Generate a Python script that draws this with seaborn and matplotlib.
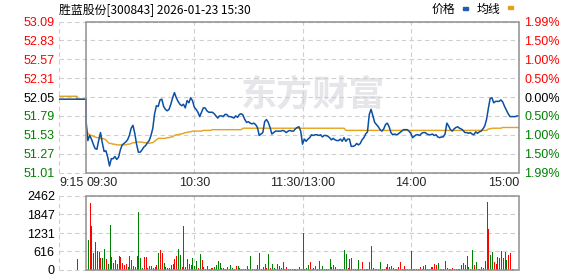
import matplotlib
matplotlib.use("Agg")
import matplotlib.pyplot as plt
from matplotlib.patches import Rectangle
import pandas as pd
import seaborn as sns

# ---------------- data ----------------
title = "胜蓝股份[300843] 2026-01-23 15:30"
legend_labels = ["价格", "均线"]
watermark = "东方财富"
prev_close = 52.05
price_ticks = [51.01, 51.27, 51.53, 51.79, 52.05, 52.31, 52.57, 52.83, 53.09]
pct_labels = ["1.99%", "1.50%", "1.00%", "0.50%", "0.00%", "0.50%", "1.00%", "1.50%", "1.99%"]
vol_ticks = [0, 616, 1231, 1847, 2462]
time_ticks = [-15, 0, 60, 120, 180, 240]
time_labels = ["9:15", "09:30", "10:30", "11:30/13:00", "14:00", "15:00"]

# pre-market (call auction 9:15-9:30), minutes relative to 9:30
pre_minutes = [-15, -5, -5, 0]
pre_price = [52.02, 52.02, 52.02, 52.02]
pre_avg = [52.06, 52.06, 52.02, 52.02]
pre_vol_minutes = [-5]
pre_vol = [366]
pre_dir = "d"

# trading minutes 0..240 (9:30-11:30, 13:00-15:00)
price = [
    51.72, 51.45, 51.52, 51.47, 51.40, 51.34, 51.33, 51.45, 51.56, 51.42,
    51.30, 51.31, 51.22, 51.10, 51.20, 51.20, 51.23, 51.19, 51.22, 51.32,
    51.39, 51.41, 51.43, 51.46, 51.52, 51.62, 51.66, 51.55, 51.40, 51.29,
    51.29, 51.32, 51.36, 51.38, 51.42, 51.45, 51.52, 51.62, 51.82, 51.93,
    51.92, 52.01, 52.02, 51.92, 51.88, 51.86, 51.88, 51.95, 52.04, 52.11,
    52.04, 51.99, 51.95, 51.93, 51.95, 51.90, 52.00, 51.97, 52.04, 52.00,
    51.91, 51.88, 51.84, 51.78, 51.84, 51.90, 51.90, 51.86, 51.84, 51.84,
    51.84, 51.82, 51.79, 51.76, 51.79, 51.79, 51.78, 51.81, 51.81, 51.78,
    51.78, 51.77, 51.76, 51.79, 51.77, 51.81, 51.82, 51.80, 51.74, 51.70,
    51.71, 51.69, 51.68, 51.69, 51.67, 51.63, 51.52, 51.54, 51.56, 51.71,
    51.74, 51.70, 51.63, 51.54, 51.56, 51.58, 51.58, 51.58, 51.58, 51.59,
    51.58, 51.56, 51.58, 51.59, 51.58, 51.58, 51.61, 51.63, 51.64, 51.58,
    51.40, 51.47, 51.44, 51.47, 51.49, 51.53, 51.52, 51.53, 51.53, 51.52,
    51.53, 51.50, 51.52, 51.52, 51.51, 51.49, 51.46, 51.48, 51.46, 51.45,
    51.45, 51.47, 51.44, 51.49, 51.44, 51.47, 51.47, 51.37, 51.37, 51.38,
    51.41, 51.39, 51.41, 51.46, 51.49, 51.54, 51.57, 51.81, 51.88, 51.79,
    51.70, 51.67, 51.64, 51.60, 51.58, 51.61, 51.67, 51.69, 51.64, 51.56,
    51.53, 51.54, 51.53, 51.54, 51.56, 51.58, 51.60, 51.60, 51.60, 51.58,
    51.55, 51.49, 51.51, 51.53, 51.53, 51.52, 51.55, 51.56, 51.56, 51.54,
    51.53, 51.53, 51.54, 51.52, 51.53, 51.50, 51.49, 51.50, 51.50, 51.54,
    51.69, 51.65, 51.60, 51.58, 51.61, 51.63, 51.64, 51.62, 51.61, 51.59,
    51.56, 51.56, 51.55, 51.56, 51.54, 51.53, 51.57, 51.55, 51.57, 51.58,
    51.61, 51.65, 51.74, 51.89, 52.03, 52.04, 51.97, 51.99, 51.99, 51.99,
    52.01, 51.98, 51.92, 51.87, 51.82, 51.78, 51.78, 51.78, 51.78, 51.79,
    51.79,
]

avg = [
    51.63, 51.55, 51.53, 51.52, 51.51, 51.50, 51.49, 51.49, 51.48, 51.48,
    51.47, 51.46, 51.43, 51.41, 51.41, 51.40, 51.40, 51.39, 51.39, 51.39,
    51.39, 51.39, 51.39, 51.40, 51.40, 51.41, 51.42, 51.42, 51.43, 51.43,
    51.43, 51.43, 51.42, 51.42, 51.42, 51.41, 51.42, 51.42, 51.44, 51.46,
    51.48, 51.48, 51.48, 51.48, 51.48, 51.49, 51.49, 51.50, 51.50, 51.52,
    51.53, 51.53, 51.54, 51.54, 51.55, 51.56, 51.56, 51.57, 51.57, 51.58,
    51.58, 51.58, 51.58, 51.58, 51.58, 51.59, 51.59, 51.59, 51.59, 51.59,
    51.60, 51.60, 51.60, 51.60, 51.60, 51.60, 51.60, 51.60, 51.60, 51.60,
    51.60, 51.60, 51.60, 51.60, 51.60, 51.60, 51.60, 51.62, 51.62, 51.62,
    51.62, 51.62, 51.62, 51.62, 51.62, 51.62, 51.62, 51.62, 51.62, 51.62,
    51.62, 51.62, 51.62, 51.62, 51.62, 51.62, 51.62, 51.62, 51.62, 51.62,
    51.62, 51.62, 51.62, 51.62, 51.62, 51.62, 51.62, 51.62, 51.62, 51.62,
    51.62, 51.62, 51.62, 51.62, 51.62, 51.62, 51.62, 51.62, 51.62, 51.62,
    51.62, 51.62, 51.62, 51.62, 51.62, 51.62, 51.62, 51.62, 51.62, 51.62,
    51.62, 51.62, 51.62, 51.62, 51.59, 51.59, 51.59, 51.59, 51.59, 51.59,
    51.59, 51.59, 51.59, 51.59, 51.59, 51.59, 51.59, 51.59, 51.59, 51.59,
    51.59, 51.59, 51.59, 51.59, 51.59, 51.59, 51.59, 51.59, 51.59, 51.59,
    51.59, 51.59, 51.59, 51.59, 51.59, 51.59, 51.59, 51.59, 51.59, 51.59,
    51.59, 51.59, 51.59, 51.59, 51.59, 51.59, 51.59, 51.59, 51.59, 51.59,
    51.59, 51.59, 51.59, 51.59, 51.59, 51.59, 51.59, 51.59, 51.59, 51.59,
    51.59, 51.59, 51.59, 51.59, 51.59, 51.59, 51.59, 51.59, 51.59, 51.59,
    51.59, 51.59, 51.59, 51.59, 51.59, 51.59, 51.59, 51.59, 51.59, 51.59,
    51.59, 51.59, 51.59, 51.61, 51.61, 51.62, 51.62, 51.62, 51.62, 51.62,
    51.62, 51.63, 51.63, 51.63, 51.63, 51.63, 51.63, 51.63, 51.63, 51.63,
    51.63,
]

volume = [
    0,
    998, 2240, 1464, 555, 943, 643, 610, 400, 400, 700,
    366, 200, 1508, 444, 244, 333, 211, 466, 433, 244,
    155, 200, 100, 466, 333, 133, 111, 466, 1930, 388,
    78, 433, 433, 78, 133, 122, 67, 100, 155, 566,
    666, 577, 233, 100, 67, 78, 166, 200, 355, 466,
    688, 500, 100, 1464, 100, 366, 200, 166, 400, 133,
    300, 78, 533, 333, 100, 33, 122, 44, 78, 55,
    111, 155, 300, 222, 55, 67, 44, 111, 44, 155,
    55, 44, 133, 122, 78, 33, 44, 44, 133, 44,
    466, 44, 33, 44, 166, 566, 44, 89, 211, 78,
    533, 78, 189, 67, 44, 200, 122, 78, 266, 44,
    89, 44, 22, 22, 33, 22, 22, 89, 22, 1242,
    44, 78, 166, 277, 44, 67, 133, 44, 310, 33,
    133, 33, 33, 33, 366, 100, 155, 89, 33, 33,
    33, 33, 666, 533, 78, 366, 400, 33, 33, 33,
    333, 33, 266, 33, 33, 33, 266, 799, 67, 33,
    33, 33, 266, 33, 33, 89, 200, 100, 144, 67,
    33, 33, 100, 266, 33, 133, 33, 33, 33, 632,
    33, 33, 33, 33, 100, 33, 133, 166, 33, 33,
    100, 100, 200, 166, 233, 33, 33, 33, 300, 67,
    33, 33, 67, 33, 33, 33, 33, 166, 233, 166,
    466, 100, 33, 666, 166, 266, 33, 33, 100, 67,
    300, 2262, 1364, 500, 600, 266, 200, 433, 400, 632,
    400, 600, 333, 500, 566, 33, 0, 0, 0, 710,
]

# u = up (red), d = down (green), - = no bar; one char per minute 0..240
direction = (
    "-"
    "dudddduudd" "udduuudduu" "uuduuuuddd" "duuuduudud"
    "uuduududuu" "ddududuudd" "duduuududu" "ddddudddud"
    "duuduududd" "dududduuuu" "dudduududu" "uuuuduudud"
    "ddduududdu" "duuuddduuu" "uuddudduuu" "duuuuuuudu"
    "ddduuudddd" "uduuuuuddd" "uuuuuuuduu" "uuuuddduud"
    "dduduuuddu" "udududuuuu" "uuudduuuud" "ddduuu---u"
)

# ---------------- style ----------------
sns.set_style("white")
plt.rcParams["font.family"] = ["Liberation Sans", "Noto Sans CJK SC", "DejaVu Sans"]

RED, GREEN, BLACK = "#ff0000", "#008000", "#000000"
BLUE_LINE, ORANGE_LINE = "#0b4fa3", "#e3a21a"
GRID_C, BOX_C = "#cfcfcf", "#8f8f8f"
DASH = (0, (4, 3))

W, H = 578, 276
fig = plt.figure(figsize=(W / 100, H / 100), dpi=100)
L, R = 59, 519
top_m, bot_m = 21.5, 172.5
top_v, bot_v = 196, 270
ax = fig.add_axes([L / W, 1 - bot_m / H, (R - L) / W, (bot_m - top_m) / H])
axv = fig.add_axes([L / W, 1 - bot_v / H, (R - L) / W, (bot_v - top_v) / H])

for a in (ax, axv):
    for s in a.spines.values():
        s.set_visible(False)
    a.set_facecolor("none")
    a.set_xlim(time_ticks[0], time_ticks[-1])

# ---------------- main price panel ----------------
ymin, ymax = price_ticks[0], price_ticks[-1]
ax.set_ylim(ymin, ymax)
for y in price_ticks:
    ax.axhline(y, color=GRID_C, lw=0.8, ls=DASH, zorder=0.5, clip_on=False)
for x in [time_ticks[0]] + time_ticks[2:-1]:
    ax.axvline(x, color=GRID_C, lw=0.8, ls=DASH, zorder=0.5, clip_on=False)
ax.add_patch(Rectangle((time_ticks[1], ymin), time_ticks[-1] - time_ticks[1], ymax - ymin,
                       fill=False, ec=BOX_C, lw=1.1, clip_on=False, zorder=4))

ax.text(0.552, 0.515, watermark, transform=ax.transAxes, ha="center", va="center",
        fontsize=26, fontweight="bold", color="#e6e6ea", family=["Noto Sans CJK SC"], zorder=0.2)

minutes = list(range(len(price)))
df = pd.DataFrame({
    "minute": pre_minutes + minutes,
    "price": pre_price + price,
    "avg": pre_avg + avg,
})
sns.lineplot(data=df, x="minute", y="avg", ax=ax, color=ORANGE_LINE, lw=1.0,
             estimator=None, sort=False, zorder=2)
sns.lineplot(data=df, x="minute", y="price", ax=ax, color=BLUE_LINE, lw=1.1,
             estimator=None, sort=False, zorder=3)
ax.set_xlabel("")
ax.set_ylabel("")


def level_color(v):
    if abs(v - prev_close) < 1e-9:
        return BLACK
    return RED if v > prev_close else GREEN


ax.set_yticks(price_ticks)
ax.set_yticklabels([f"{v:.2f}" for v in price_ticks], fontsize=9)
for lab, v in zip(ax.get_yticklabels(), price_ticks):
    lab.set_color(level_color(v))
ax.tick_params(axis="y", length=0, pad=3)

ax.set_xticks(time_ticks)
ax.set_xticklabels(time_labels, fontsize=9)
for lab, ha in zip(ax.get_xticklabels(), ["left", "left", "center", "center", "center", "right"]):
    lab.set_ha(ha)
ax.tick_params(axis="x", length=0, pad=3)

ax2 = ax.twinx()
for s in ax2.spines.values():
    s.set_visible(False)
ax2.set_ylim(ymin, ymax)
ax2.set_yticks(price_ticks)
ax2.set_yticklabels(pct_labels, fontsize=9)
for lab, v in zip(ax2.get_yticklabels(), price_ticks):
    lab.set_color(level_color(v))
ax2.tick_params(axis="y", length=0, pad=4)

# ---------------- volume panel ----------------
axv.set_ylim(vol_ticks[0], vol_ticks[-1])
for y in vol_ticks:
    axv.axhline(y, color=GRID_C, lw=0.8, ls=DASH, zorder=0.5, clip_on=False)
for x in [time_ticks[0]] + time_ticks[2:-1]:
    axv.axvline(x, color=GRID_C, lw=0.8, ls=DASH, zorder=0.5, clip_on=False)
axv.add_patch(Rectangle((time_ticks[1], vol_ticks[0]), time_ticks[-1] - time_ticks[1],
                        vol_ticks[-1] - vol_ticks[0], fill=False, ec=BOX_C, lw=1.1,
                        clip_on=False, zorder=4))

bar_x = pre_vol_minutes + minutes
bar_v = pre_vol + volume
bar_d = pre_dir + direction
keep = [i for i, d in enumerate(bar_d) if d != "-" and bar_v[i] > 0]
axv.vlines([bar_x[i] for i in keep], 0, [bar_v[i] for i in keep],
           colors=[RED if bar_d[i] == "u" else GREEN for i in keep],
           lw=0.55, antialiased=False, zorder=3)

axv.set_yticks(vol_ticks)
axv.set_yticklabels([str(v) for v in vol_ticks], fontsize=9, color=BLACK)
axv.tick_params(axis="y", length=0, pad=3)
axv.set_xticks([])

# ---------------- title & legend ----------------
fig.text(L / W, 1 - 9.5 / H, title, fontsize=8.6, va="center", ha="left",
         family=["Noto Sans CJK SC", "DejaVu Sans"], color=BLACK)
fig.text(431.5 / W, 1 - 9.5 / H, legend_labels[0], fontsize=8.6, va="center", ha="left",
         family=["Noto Sans CJK SC"], color=BLACK)
fig.text(477 / W, 1 - 9.5 / H, legend_labels[1], fontsize=8.6, va="center", ha="left",
         family=["Noto Sans CJK SC"], color=BLACK)
fig.patches.append(Rectangle((462.5 / W, 1 - 9.5 / H), 5 / W, 2.5 / H, color="#1f5cb8",
                             transform=fig.transFigure, figure=fig))
fig.patches.append(Rectangle((507.5 / W, 1 - 9 / H), 5 / W, 2.5 / H, color="#e0a41c",
                             transform=fig.transFigure, figure=fig))

fig.savefig("out.png", dpi=100)
